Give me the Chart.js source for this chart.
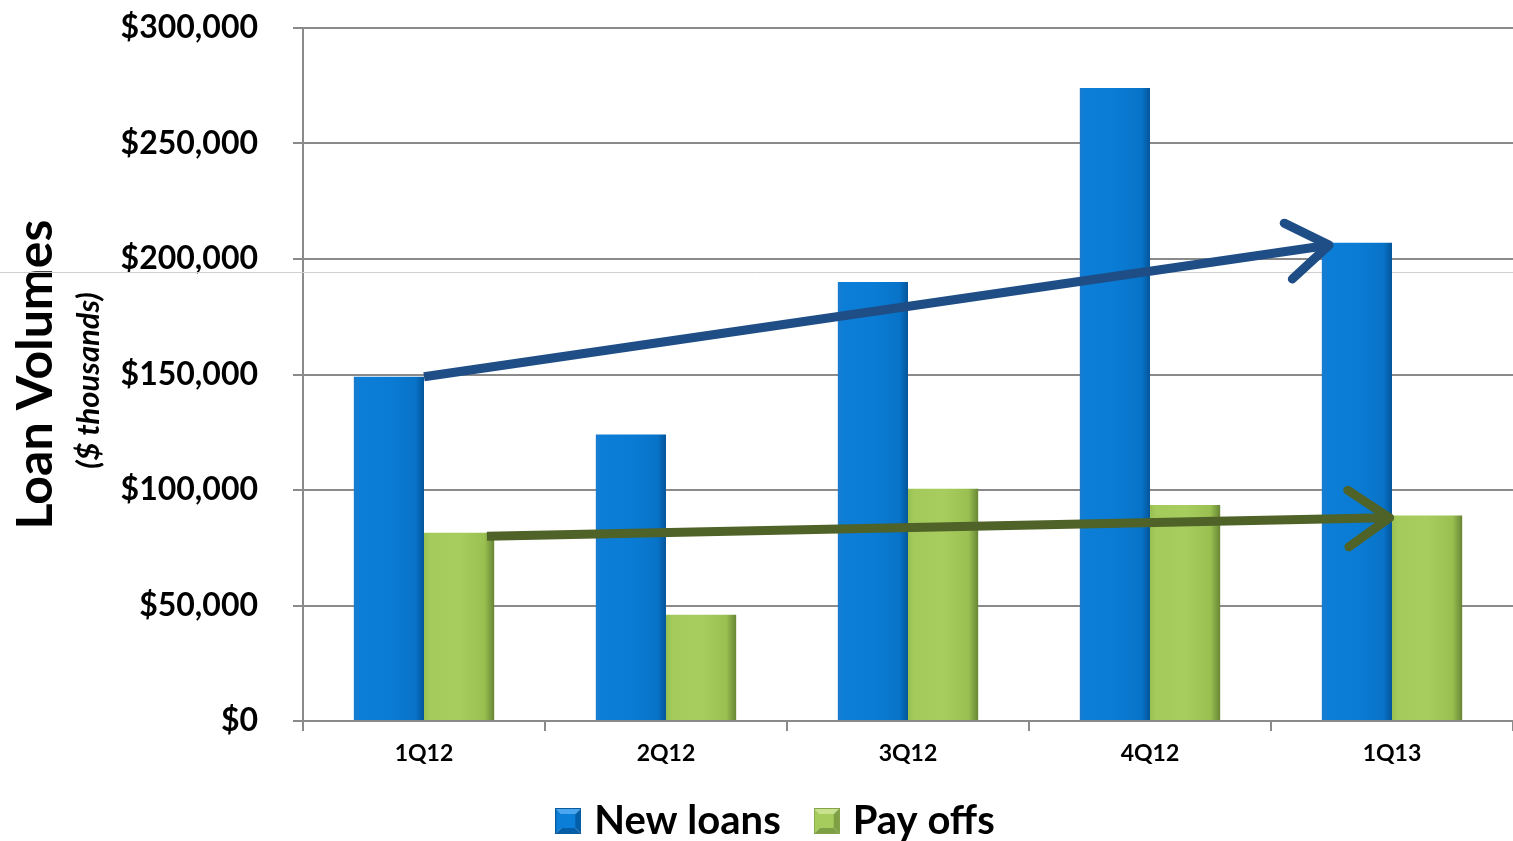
<!DOCTYPE html>
<html>
<head>
<meta charset="utf-8">
<title>Loan Volumes</title>
<script src="https://cdn.jsdelivr.net/npm/chart.js@4"></script>
<style>
  html, body { margin: 0; padding: 0; background: #fff; }
  #wrap { width: 1513px; height: 841px; }
</style>
</head>
<body>
<div id="wrap"><canvas id="loans"></canvas></div>
<script>
/* ── Loan volumes by quarter ─────────────────────────────────────────────── */

const quarters  = ['1Q12', '2Q12', '3Q12', '4Q12', '1Q13'];
const newLoans  = [149000, 124000, 190000, 274000, 207000];
const payOffs   = [81500, 46000, 100500, 93500, 89000];
const yTicks    = [0, 50000, 100000, 150000, 200000, 250000, 300000];

// trend arrows: x in category units, y in $ thousands
const newTrendX = [0, 3.74];
const newTrendY = [149000, 206000];
const payTrendX = [0.26, 3.99];
const payTrendY = [80000, 88000];

const CAT_PCT = 0.58;
const FONT    = 'Lato, "Open Sans", sans-serif';

// ── Bar shading (horizontal gradient across each bar) ──────────────────────
function barFill(stops, side) {
  return ctx => {
    const chart = ctx.chart;
    const x = chart.scales.x;
    if (!x || !chart.chartArea || ctx.dataIndex === undefined) return stops[2][1];
    const centre = x.getPixelForValue(ctx.dataIndex);
    const w = x.width / quarters.length * CAT_PCT / 2;
    const x0 = side < 0 ? centre - w : centre;
    const g = chart.ctx.createLinearGradient(x0, 0, x0 + w, 0);
    stops.forEach(([p, c]) => g.addColorStop(p, c));
    return g;
  };
}

const blueStops = [[0, '#1a7ccf'], [0.08, '#0c7ed7'], [0.5, '#0a7cd5'], [0.88, '#0873c8'], [1, '#045599']];
const greenStops = [[0, '#98c052'], [0.08, '#a3ca5b'], [0.5, '#a6cd5e'], [0.86, '#9ac052'], [1, '#688634']];

// ── Arrows, subtitle and guide line ────────────────────────────────────────
function drawArrow(c, x1, y1, x2, y2, colour) {
  const ang = Math.atan2(y2 - y1, x2 - x1);
  const head = 50, spread = 0.6;
  c.save();
  c.strokeStyle = colour;
  c.lineWidth = 9;
  c.lineCap = 'butt';
  c.beginPath();
  c.moveTo(x1, y1);
  c.lineTo(x2 - 4 * Math.cos(ang), y2 - 4 * Math.sin(ang));
  c.stroke();
  c.lineCap = 'round';
  c.lineJoin = 'round';
  c.beginPath();
  c.moveTo(x2 - head * Math.cos(ang - spread), y2 - head * Math.sin(ang - spread));
  c.lineTo(x2, y2);
  c.lineTo(x2 - head * Math.cos(ang + spread), y2 - head * Math.sin(ang + spread));
  c.stroke();
  c.restore();
}

const extras = {
  id: 'extras',
  afterLayout(chart) {
    // centre the legend on its visible items (Chart.js counts a trailing gap)
    // and lift it a little closer to the axis labels
    const lg = chart.legend;
    if (lg) {
      lg.left += 22; lg.right += 22;
      lg.top -= 10; lg.bottom -= 10;
    }
  },
  beforeDatasetsDraw(chart) {
    const c = chart.ctx, y = chart.scales.y;
    const gy = Math.round(y.getPixelForValue(194400)) + 0.5;
    c.save();
    c.strokeStyle = '#cfcfcf';
    c.lineWidth = 1;
    c.beginPath();
    c.moveTo(0, gy);
    c.lineTo(chart.width, gy);
    c.stroke();
    c.restore();
  },
  afterDatasetsDraw(chart) {
    const c = chart.ctx, x = chart.scales.x, y = chart.scales.y;
    drawArrow(c,
      x.getPixelForValue(newTrendX[0]), y.getPixelForValue(newTrendY[0]),
      x.getPixelForValue(newTrendX[1]), y.getPixelForValue(newTrendY[1]), '#1f4e86');
    drawArrow(c,
      x.getPixelForValue(payTrendX[0]), y.getPixelForValue(payTrendY[0]),
      x.getPixelForValue(payTrendX[1]), y.getPixelForValue(payTrendY[1]), '#4f6228');
  },
  afterDraw(chart) {
    const c = chart.ctx, area = chart.chartArea;
    c.save();
    c.translate(89, (area.top + area.bottom) / 2 + 6);
    c.rotate(-Math.PI / 2);
    c.fillStyle = '#000';
    c.font = 'italic bold 31px ' + FONT;
    c.textAlign = 'center';
    c.textBaseline = 'middle';
    c.fillText('($ thousands)', 0, 0);
    c.restore();
  }
};

// ── Legend swatch: bevelled square ─────────────────────────────────────────
function swatch(light, mid, dark, edge) {
  const s = 26, cv = document.createElement('canvas');
  cv.width = s; cv.height = s;
  const c = cv.getContext('2d'), b = 6;
  const tri = (pts, col) => {
    c.fillStyle = col; c.beginPath();
    pts.forEach(([px, py], i) => i ? c.lineTo(px, py) : c.moveTo(px, py));
    c.closePath(); c.fill();
  };
  tri([[0, 0], [s, 0], [s - b, b], [b, b]], light);
  tri([[0, 0], [b, b], [b, s - b], [0, s]], mid);
  tri([[s, 0], [s, s], [s - b, s - b], [s - b, b]], dark);
  tri([[0, s], [b, s - b], [s - b, s - b], [s, s]], dark);
  c.fillStyle = mid;
  c.fillRect(b, b, s - 2 * b, s - 2 * b);
  c.strokeStyle = edge; c.lineWidth = 1;
  c.strokeRect(0.5, 0.5, s - 1, s - 1);
  return cv;
}

const blueSwatch  = swatch('#4aa6ee', '#0b7fd8', '#055fa8', '#0a5a9e');
const greenSwatch = swatch('#c8e28e', '#a5cc5c', '#7f9f44', '#84a24a');

// ── Chart ──────────────────────────────────────────────────────────────────
new Chart(document.getElementById('loans'), {
  type: 'bar',
  data: {
    labels: quarters,
    datasets: [
      { label: 'New loans', data: newLoans, backgroundColor: barFill(blueStops, -1),
        pointStyle: blueSwatch },
      { label: 'Pay offs', data: payOffs, backgroundColor: barFill(greenStops, 1),
        pointStyle: greenSwatch },
    ],
  },
  options: {
    responsive: true, maintainAspectRatio: false,
    animation: false,
    layout: { padding: { top: 28, right: 0, left: 0, bottom: -20 } },
    datasets: { bar: { categoryPercentage: CAT_PCT, barPercentage: 1 } },
    plugins: {
      tooltip: { enabled: false },
      legend: {
        position: 'bottom',
        labels: {
          usePointStyle: true,
          boxWidth: 12, boxHeight: 26,
          padding: 40,
          color: '#000',
          font: { family: FONT, size: 40, weight: 'bold' },
        },
      },
    },
    scales: {
      x: {
        grid: { drawOnChartArea: false, offset: true, tickLength: 10, color: '#8a8a8a', lineWidth: 2 },
        border: { color: '#8a8a8a', width: 2 },
        ticks: { color: '#000', padding: 9, font: { family: FONT, size: 23, weight: 'bold' } },
        afterFit: s => { s.height = 50; s.paddingLeft = 0; s.paddingRight = 0; },
      },
      y: {
        min: 0, max: 300000,
        afterBuildTicks: s => { s.ticks = yTicks.map(v => ({ value: v })); },
        grid: { color: '#8a8a8a', lineWidth: 2, tickLength: 10 },
        border: { color: '#8a8a8a', width: 2 },
        ticks: {
          color: '#000', padding: 35,
          font: { family: FONT, size: 32, weight: 'bold' },
          callback: v => '$' + v.toLocaleString('en-US'),
        },
        title: {
          display: true, text: 'Loan Volumes', color: '#000',
          padding: { top: 6, bottom: 0 },
          font: { family: FONT, size: 50, weight: 'bold' },
        },
        afterFit: s => { s.width = 303; s.paddingTop = 0; s.paddingBottom = 0; },
      },
    },
  },
  plugins: [extras],
});
</script>
</body>
</html>
